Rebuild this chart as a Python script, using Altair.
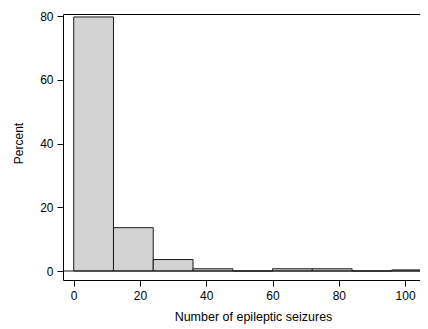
import altair as alt
import pandas as pd

bin_start = [0, 12, 24, 36, 48, 60, 72, 84, 96]
bin_width = 12
percent = [79.7, 13.6, 3.6, 0.7, 0.0, 0.7, 0.7, 0.0, 0.35]
x_ticks = [0, 20, 40, 60, 80, 100]
y_ticks = [0, 20, 40, 60, 80]

df = pd.DataFrame({
    "start": bin_start,
    "end": [s + bin_width for s in bin_start],
    "pct": percent,
    "base": [0] * len(bin_start),
})

FONT = "Liberation Sans"
xscale = alt.Scale(domain=[-3.23, 105.4], nice=False, zero=False)
yscale = alt.Scale(domain=[-2.82, 80.63], nice=False, zero=False)

axis_common = dict(
    labelFont=FONT, labelFontSize=12, labelColor="black",
    titleFont=FONT, titleFontWeight="normal", titleColor="black",
    tickColor="black", tickSize=6, domain=False, grid=False,
)

bars = alt.Chart(df).mark_rect(
    fill="#d3d3d3", stroke="#1a1a1a", strokeWidth=1, clip=True
).encode(
    x=alt.X("start:Q", scale=xscale,
            axis=alt.Axis(values=x_ticks, title="Number of epileptic seizures",
                          labelPadding=4, titlePadding=9, titleFontSize=12.5,
                          titleX=190, titleAlign="center", **axis_common)),
    x2="end:Q",
    y=alt.Y("pct:Q", scale=yscale,
            axis=alt.Axis(values=y_ticks, title="Percent",
                          labelPadding=4, titlePadding=14, titleFontSize=12,
                          titleY=129, **axis_common)),
    y2="base:Q",
)

base_df = pd.DataFrame({"y": [0]})
baseline = alt.Chart(base_df).mark_rule(color="#1a1a1a", strokeWidth=1).encode(
    y=alt.Y("y:Q", scale=yscale)
)

chart = alt.layer(bars, baseline).properties(
    width=360, height=266,
    autosize=alt.AutoSizeParams(type="none"),
    padding={"left": 55, "top": 6, "right": -3, "bottom": 50},
    background="white",
).configure_view(stroke="black", strokeWidth=1)

chart.save("out.html", embed_options={"renderer": "svg", "actions": False})
